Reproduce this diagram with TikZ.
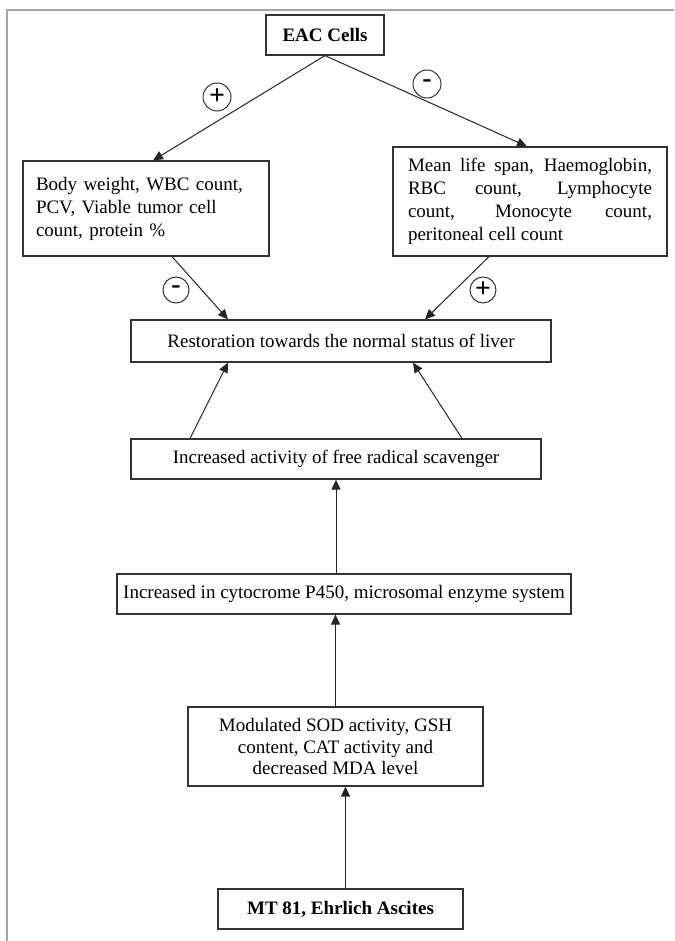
\documentclass[tikz,border=0pt]{standalone}
\usepackage{fontspec}
\setmainfont{Liberation Serif}
\usetikzlibrary{arrows.meta}

\tikzset{
  box/.style={draw=black!80, line width=0.6pt, inner sep=0pt,
    font=\fontsize{9.5}{11.5}\selectfont},
  sign/.style={draw=black!80, circle, line width=0.5pt, minimum size=14pt,
    inner sep=0pt, font=\fontsize{14}{14}\selectfont\bfseries},
  arr/.style={draw=black!85, line width=0.5pt, -{Triangle[length=5pt,width=4.5pt]}},
}

\begin{document}
\begin{tikzpicture}[x=0.5pt,y=-0.5pt]
\useasboundingbox (0,0) rectangle (674,941);
% frame of the figure
\draw[gray!70, line width=1pt] (7,941) -- (7,10) -- (674,10);

\node[box, minimum width=59pt, minimum height=20pt,
  font=\fontsize{9.5}{11.5}\selectfont\bfseries] (eac) at (325,35) {EAC Cells};
\node[box, minimum width=123pt, minimum height=47.5pt, text width=110pt,
  align=left] (body) at (146,208.5)
  {Body weight, WBC count,\\PCV, Viable tumor cell\\count, protein \%};
\node[box, minimum width=137pt, minimum height=54.5pt, text width=122pt,
  align=justify] (mean) at (530,201.5)
  {Mean life span, Haemoglobin,\linebreak RBC count, Lymphocyte\linebreak
   count, Monocyte count,\linebreak peritoneal cell count};
\node[box, minimum width=210pt, minimum height=21pt] (restore) at (341,341)
  {Restoration towards the normal status of liver};
\node[box, minimum width=205pt, minimum height=20pt] (scav) at (336,459)
  {Increased activity of free radical scavenger};
\node[box, minimum width=227pt, minimum height=20pt] (cyto) at (344,594)
  {Increased in cytocrome P450, microsomal enzyme system};
\node[box, minimum width=147.5pt, minimum height=39.5pt, align=center,
  font=\fontsize{9.5}{10.75}\selectfont] (sod) at (335.5,746.5)
  {Modulated SOD activity, GSH\\content, CAT activity and\\decreased MDA level};
\node[box, minimum width=122.5pt, minimum height=20pt,
  font=\fontsize{9.5}{11.5}\selectfont\bfseries] (mt) at (340.5,909)
  {MT 81, Ehrlich Ascites};

% signs
\node[sign] (s1) at (217,97) {+};
\node[sign] (s2) at (427,84) {-};
\node[sign, minimum size=13pt] (s3) at (176,290) {-};
\node[sign, minimum size=13pt] (s4) at (483,290) {+};

% arrows
\draw[arr] (eac.south) -- ([xshift=3.5pt]body.north);
\draw[arr] (eac.south) -- ([xshift=-1.5pt]mean.north);
\draw[arr] ([xshift=13pt]body.south) -- ([xshift=-56.5pt]restore.north);
\draw[arr] ([xshift=-20.5pt]mean.south) -- ([xshift=42pt]restore.north);
\draw[arr] ([xshift=-73pt]scav.north) -- ([xshift=-56.5pt]restore.south);
\draw[arr] ([xshift=63pt]scav.north) -- ([xshift=36pt]restore.south);
\draw[arr] (scav.south |- cyto.north) -- (scav.south);
\draw[arr] (sod.north) -- (sod.north |- cyto.south);
\draw[arr, line width=0.9pt] ([xshift=2.5pt]mt.north) -- ([xshift=5pt]sod.south);
\end{tikzpicture}
\end{document}
